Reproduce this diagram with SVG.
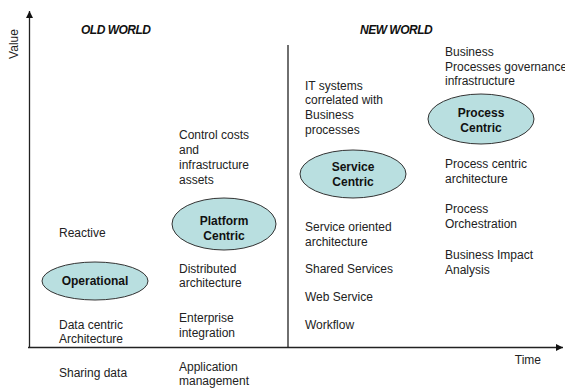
<svg xmlns="http://www.w3.org/2000/svg" width="565" height="388" viewBox="0 0 565 388">
<defs>
<style>
text{font-family:"Liberation Sans",Arial,sans-serif;font-size:12px;fill:#222}
.b{font-weight:bold;text-anchor:middle;fill:#111}
.h{font-weight:bold;font-style:italic;font-size:12px;fill:#111;letter-spacing:-0.5px}
.e{fill:#b9dfe0;stroke:#333;stroke-width:1}
.ax{stroke:#222;stroke-width:1.3;fill:none}
</style>
<marker id="arr" viewBox="0 0 10 10" refX="10" refY="5" markerWidth="7" markerHeight="7" markerUnits="userSpaceOnUse" orient="auto">
<path d="M0,0 L10,5 L0,10 z" fill="#111"/>
</marker>
</defs>
<rect width="565" height="388" fill="#fff"/>
<g id="connectors">
<line class="ax" x1="29.5" y1="347.5" x2="29.5" y2="11" marker-end="url(#arr)"/>
<line class="ax" x1="28" y1="347.5" x2="563" y2="347.5" stroke="#555" marker-end="url(#arr)"/>
<line class="ax" x1="288" y1="45" x2="288" y2="347.5"/>
</g>
<g id="labels">
<text x="18" y="44" text-anchor="middle" transform="rotate(-90 18 44)">Value</text>
<text x="541" y="364" text-anchor="end">Time</text>
<text class="h" x="81" y="34">OLD WORLD</text>
<text class="h" x="360" y="34">NEW WORLD</text>
</g>
<g id="operational">
<ellipse class="e" cx="95" cy="281" rx="53" ry="19"/>
<text class="b" x="95" y="285">Operational</text>
<text x="59" y="237">Reactive</text>
<text x="59" y="329">Data centric</text>
<text x="59" y="343">Architecture</text>
<text x="59" y="377">Sharing data</text>
</g>
<g id="platform-centric">
<ellipse class="e" cx="224" cy="224" rx="52" ry="26"/>
<text class="b" x="224" y="225">Platform</text>
<text class="b" x="224" y="240">Centric</text>
<text x="179" y="139">Control costs</text>
<text x="179" y="154">and</text>
<text x="179" y="169">infrastructure</text>
<text x="179" y="184">assets</text>
<text x="179" y="273">Distributed</text>
<text x="179" y="287">architecture</text>
<text x="179" y="322">Enterprise</text>
<text x="179" y="337">integration</text>
<text x="179" y="371">Application</text>
<text x="179" y="385">management</text>
</g>
<g id="service-centric">
<ellipse class="e" cx="353" cy="174" rx="53" ry="24"/>
<text class="b" x="353" y="171">Service</text>
<text class="b" x="353" y="186">Centric</text>
<text x="305" y="90">IT systems</text>
<text x="305" y="104">correlated with</text>
<text x="305" y="119">Business</text>
<text x="305" y="134">processes</text>
<text x="305" y="231">Service oriented</text>
<text x="305" y="246">architecture</text>
<text x="305" y="273">Shared Services</text>
<text x="305" y="301">Web Service</text>
<text x="305" y="329">Workflow</text>
</g>
<g id="process-centric">
<ellipse class="e" cx="481" cy="119" rx="53" ry="25"/>
<text class="b" x="481" y="117">Process</text>
<text class="b" x="481" y="132">Centric</text>
<text x="445" y="56">Business</text>
<text x="445" y="71">Processes governance</text>
<text x="445" y="85">infrastructure</text>
<text x="445" y="168">Process centric</text>
<text x="445" y="183">architecture</text>
<text x="445" y="213">Process</text>
<text x="445" y="228">Orchestration</text>
<text x="445" y="259">Business Impact</text>
<text x="445" y="274">Analysis</text>
</g>
</svg>
